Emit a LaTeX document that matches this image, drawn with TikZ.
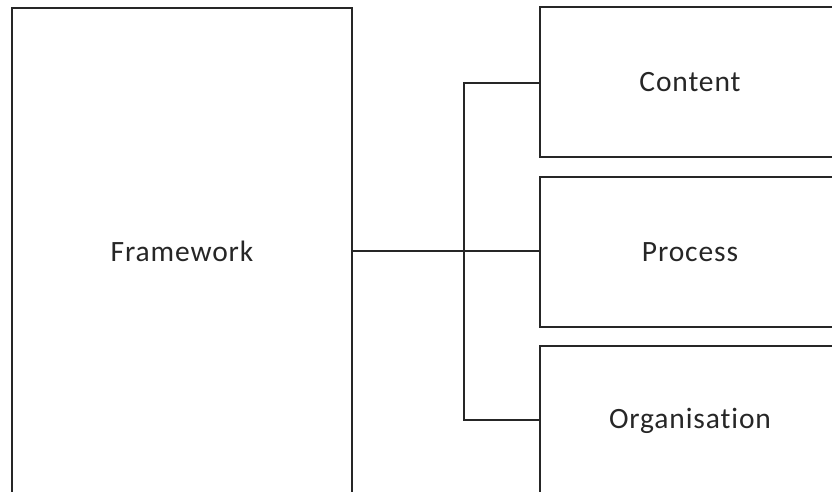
\documentclass[tikz,border=0pt]{standalone}
\usepackage{fontspec}
\setmainfont[LetterSpace=3,Ligatures={NoCommon,NoRare,NoContextual}]{Carlito}
\begin{document}
\begin{tikzpicture}[x=1pt,y=-1pt,
  box/.style={draw=black!85,line width=1.6pt,rectangle,inner sep=0pt,
    font=\fontsize{29.5}{32}\selectfont,text=black!85},
  link/.style={draw=black!85,line width=1.4pt}]
\useasboundingbox (0,0) rectangle (832,492);
\begin{scope}
\clip (0,0) rectangle (832,492);
% main block on the left
\node[box,minimum width=340pt,minimum height=486pt] (fw) at (182,251) {Framework};
% three blocks on the right
\node[box,minimum width=300pt,minimum height=150pt] (ct) at (690,82) {Content};
\node[box,minimum width=300pt,minimum height=150pt] (pr) at (690,252) {Process};
\node[box,minimum width=300pt,minimum height=150pt] (og) at (690,421) {Organisa{}tion};
% bracket connector
\coordinate (j) at (464,251);
\draw[link] (fw.east |- j) -- (pr.west |- j);
\draw[link] (ct.west |- 0,83) -| (j) |- (og.west |- 0,420);
\end{scope}
\end{tikzpicture}
\end{document}
